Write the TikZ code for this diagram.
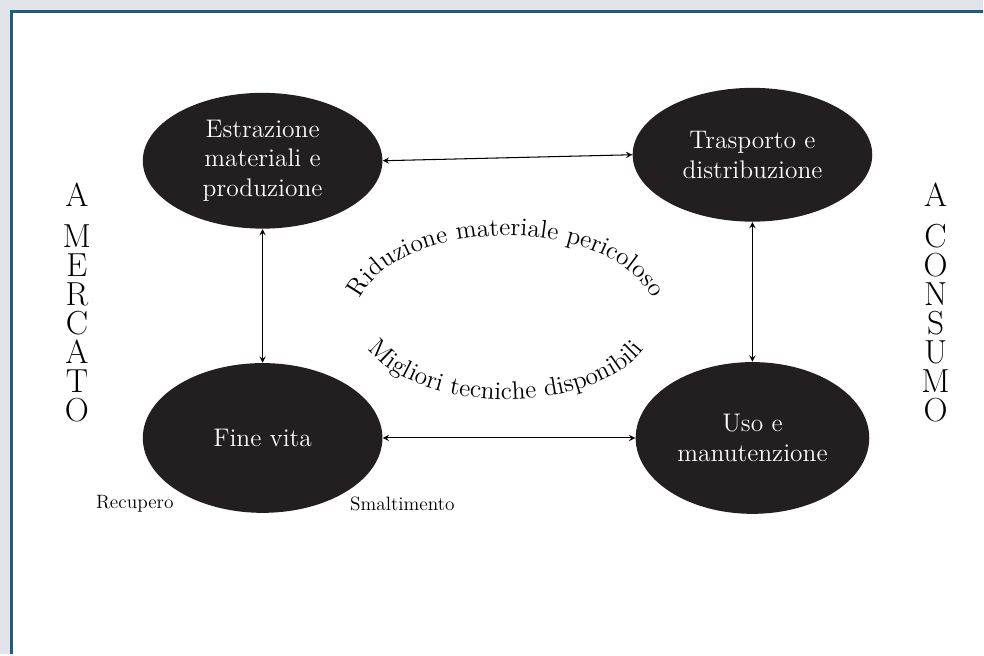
\documentclass[tikz,border=0pt]{standalone}
\usepackage{xcolor}
\usepackage{tikz}
\usetikzlibrary{shapes.geometric, arrows, positioning, decorations.text}
\definecolor{framebg}{RGB}{225,228,235}
\definecolor{frameline}{RGB}{28,95,125}
\definecolor{stagefill}{RGB}{35,31,32}
\tikzstyle{stage} = [ellipse, draw=none, fill=stagefill, text=white, align=center, inner sep=0pt, minimum width=4.8cm, minimum height=2.72cm, font=\fontsize{14.5}{17}\selectfont]
\tikzstyle{arrow} = [semithick,<->,>=stealth]
\tikzstyle{side} = [align=center, font=\fontsize{19}{16.5}\selectfont]
\tikzstyle{endlabel} = [font=\fontsize{11}{13}\selectfont]

\begin{document}
\begin{tikzpicture}[x=0.02cm, y=0.02cm]

% frame
\fill[framebg] (0,0) rectangle (984,655);
\fill[white] (12,0) rectangle (984,643);
\draw[frameline, line width=0.06cm] (11.5,0) -- (11.5,643.5) -- (984,643.5);
\useasboundingbox (0,0) rectangle (984,655);

% life-cycle stages
\node[stage] (estr) at (263,494) {Estrazione\\materiali e\\produzione};
\node[stage, minimum height=3cm, below=2.68cm of estr] (fine) {Fine vita};
\node[stage, minimum width=4.68cm, minimum height=3.04cm, right=5.06cm of fine] (uso) {Uso e\\manutenzione};
\node[stage, minimum height=2.68cm, above=2.8cm of uso] (trasp) {Trasporto e\\distribuzione};

% arrows between stages
\draw[arrow] (estr.east) -- (trasp.west);
\draw[arrow] (estr.south) -- (fine.north);
\draw[arrow] (trasp.south) -- (uso.north);
\draw[arrow] (fine.east) -- (uso.west);

% curved texts in the middle
\coordinate (arcL) at (357,337);
\path[decorate, decoration={text along path, text align=center,
    text={|\fontsize{14.5}{15}\selectfont|Riduzione materiale pericoloso}}]
    (arcL) arc[start angle=180, end angle=0, x radius=3cm, y radius=1.64cm];
\path[decorate, decoration={text along path, text align=center,
    text={|\fontsize{14.5}{15}\selectfont|Migliori tecniche disponibili}}]
    (arcL) arc[start angle=180, end angle=360, x radius=3cm, y radius=1.64cm];

% side labels
\node[side] (mercato) at (77,352) {A\\[7pt]M\\E\\R\\C\\A\\T\\O};
\node[side] (consumo) at (937,352) {A\\[7pt]C\\O\\N\\S\\U\\M\\O};

% end of life labels
\node[endlabel] (recup) at (135,150) {Recupero};
\node[endlabel] (smalt) at (403,150) {Smaltimento};

\end{tikzpicture}
\end{document}
